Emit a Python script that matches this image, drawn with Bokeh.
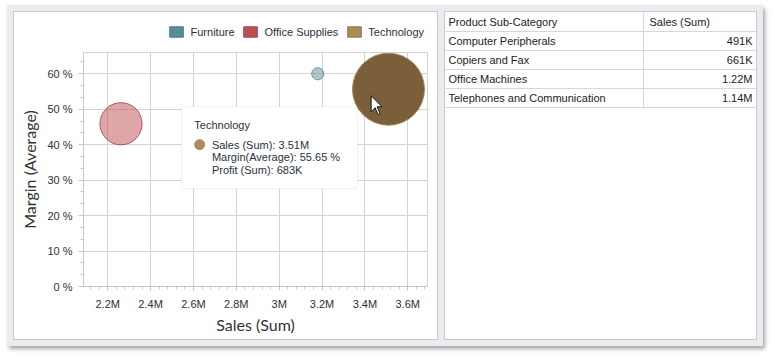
from bokeh.plotting import figure
from bokeh.models import (ColumnDataSource, Legend, LegendItem, SingleIntervalTicker,
                          CustomJSTickFormatter, BoxAnnotation, Label, Range1d)
from bokeh.layouts import row, column
from bokeh.embed import file_html
from bokeh.resources import INLINE
from bokeh.core.properties import value

# ---------------- data ----------------
categories = ["Furniture", "Office Supplies", "Technology"]
sales = [3180000, 2262000, 3510000]          # Sales (Sum)
margin = [60.0, 45.9, 55.65]                 # Margin (Average), %
profit = [115000, 400000, 683000]            # Profit (Sum) -> bubble size

subcategories = ["Computer Peripherals", "Copiers and Fax", "Office Machines",
                 "Telephones and Communication"]
subcategory_sales = [491000, 661000, 1220000, 1140000]

# ---------------- styles ----------------
FONT = "Liberation Sans"
TITLE_FONT = "Lato"
TEXT_COL = "#2B3042"
GRID_COL = "#D2D2DA"
PANEL_BORDER = "#C9C9D6"
FRAME_BG = "#EBEBF0"
swatch_colors = ["#5D8B95", "#BE4D53", "#B08A56"]
swatch_lines = ["#4E7A84", "#A8434A", "#97764A"]
bubble_fill = ["#5D8B95", "#BE4D53", "#7B5E3A"]
bubble_alpha = [0.5, 0.5, 1.0]
bubble_line = ["#6E98A1", "#B9545A", "#A48653"]
PX_PER_PROFIT = 72.0 / 683000.0
NAN = float("nan")


def fmt_money(v):
    if v >= 1e6:
        return f"{v/1e6:.2f}M"
    return f"{v/1e3:.0f}K"


# ---------------- legend strip ----------------
lg = figure(width=423, height=30, x_range=Range1d(0, 1), y_range=Range1d(0, 1),
            output_backend="svg", toolbar_location=None,
            min_border_left=0, min_border_right=0, min_border_bottom=0, min_border_top=10,
            x_axis_location=None, y_axis_location=None,
            background_fill_color="white", border_fill_color="white")
lg.grid.visible = False
lg.outline_line_color = None
items = []
for c, fc, lc in zip(categories, swatch_colors, swatch_lines):
    r = lg.quad(left=[NAN], right=[NAN], top=[NAN], bottom=[NAN], fill_color=fc, line_color=lc)
    items.append(LegendItem(label=c, renderers=[r]))
legend = Legend(items=items, orientation="horizontal", location="top_right",
                glyph_width=17, glyph_height=13, label_height=13, label_standoff=6, spacing=7,
                padding=3, margin=0, border_line_alpha=0, background_fill_alpha=0,
                label_text_font=FONT, label_text_font_size="11px",
                label_text_color=TEXT_COL)
lg.add_layout(legend)

# ---------------- chart ----------------
p = figure(width=423, height=297, x_range=Range1d(2087000, 3692000), y_range=Range1d(0, 66),
           output_backend="svg", toolbar_location=None,
           min_border_left=69, min_border_right=10, min_border_top=10, min_border_bottom=53,
           background_fill_color="white", border_fill_color="white")
p.outline_line_color = GRID_COL

src = ColumnDataSource(dict(x=sales, y=margin,
                            size=[v * PX_PER_PROFIT for v in profit],
                            fill=bubble_fill, alpha=bubble_alpha, line=bubble_line))
p.scatter("x", "y", size="size", source=src, fill_color="fill", fill_alpha="alpha",
          line_color="line", line_width=1)

p.xaxis.ticker = SingleIntervalTicker(interval=200000, num_minor_ticks=5)
p.xaxis.formatter = CustomJSTickFormatter(
    code="var v=(tick/1e6); var s=v.toFixed(1); if (s.endsWith('.0')) s=s.slice(0,-2); return s+'M';")
p.yaxis.ticker = SingleIntervalTicker(interval=10, num_minor_ticks=3)
p.yaxis.formatter = CustomJSTickFormatter(code="return tick.toFixed(0) + ' %';")

for ax in (p.xaxis[0], p.yaxis[0]):
    ax.axis_line_color = "#C6C6D2"
    ax.major_tick_line_color = "#C6C6D2"
    ax.minor_tick_line_color = "#C6C6D2"
    ax.major_tick_in = 0
    ax.minor_tick_in = 0
    ax.major_label_text_font = FONT
    ax.major_label_text_font_size = "11px"
    ax.major_label_text_color = TEXT_COL
    ax.axis_label_text_font = TITLE_FONT
    ax.axis_label_text_font_size = "16px"
    ax.axis_label_text_font_style = "normal"
    ax.axis_label_text_color = "#333333"

p.xaxis.axis_label = "Sales (Sum)"
p.yaxis.axis_label = "Margin (Average)"
p.xaxis.major_tick_out = 4
p.xaxis.minor_tick_out = 3
p.yaxis.major_tick_out = 5
p.yaxis.minor_tick_out = 3
p.xaxis.major_label_standoff = 7
p.yaxis.major_label_standoff = 6
p.xaxis.axis_label_standoff = 2
p.yaxis.axis_label_standoff = 5

p.xgrid.grid_line_color = GRID_COL
p.ygrid.grid_line_color = GRID_COL

# tooltip of the hovered Technology bubble
ti = categories.index("Technology")
tip_box = BoxAnnotation(left=2544000, right=3365000, top=50.7, bottom=27.6,
                        fill_color="white", fill_alpha=1.0, line_color="#CBCBD6",
                        line_width=1, border_radius=3, level="annotation")
p.add_layout(tip_box)
p.add_layout(Label(x=2604000, y=45.6, text=categories[ti], text_font=FONT,
                   text_font_size="11px", text_color=TEXT_COL, text_baseline="middle"))
tip_lines = [f"Sales (Sum): {fmt_money(sales[ti])}",
             f"Margin(Average): {margin[ti]:.2f} %",
             f"Profit (Sum): {fmt_money(profit[ti])}"]
for i, txt in enumerate(tip_lines):
    p.add_layout(Label(x=2686000, y=40.0 - i * 3.6, text=txt, text_font=FONT,
                       text_font_size="11px", text_color=TEXT_COL, text_baseline="middle"))
p.scatter(x=[2629000], y=[40.0], size=10, fill_color=swatch_colors[ti],
          line_color=swatch_colors[ti], level="overlay")

# mouse pointer resting on the hovered bubble (pixel outline scaled to data units)
PX_X = (3692000 - 2087000) / 344.0
PX_Y = 66.0 / 234.0
cursor_tip = (3429000, 53.8)
arrow_px = [(0, 0), (0, 16), (4, 12), (7, 19), (9, 18), (6, 11), (11, 11)]
p.patch(x=[cursor_tip[0] + dx * PX_X for dx, dy in arrow_px],
        y=[cursor_tip[1] - dy * PX_Y for dx, dy in arrow_px],
        fill_color="white", line_color="#111111", line_width=1, level="overlay")

# ---------------- table ----------------
TW, TH = 311, 327
ROW_H = 19
COL_X = 198
t = figure(width=TW, height=TH, x_range=Range1d(0, TW), y_range=Range1d(TH, 0),
           output_backend="svg", toolbar_location=None,
           min_border=0, background_fill_color="white", border_fill_color="white")
t.axis.visible = False
t.grid.visible = False
t.outline_line_color = None

n = len(subcategories)
hy = [ROW_H * (i + 1) for i in range(n + 1)]
t.segment(x0=[0] * len(hy), x1=[TW] * len(hy), y0=hy, y1=hy, line_color="#D6D6E0", line_width=1)
t.segment(x0=[COL_X], x1=[COL_X], y0=[0], y1=[ROW_H * (n + 1)], line_color="#D6D6E0", line_width=1)

t.text(x=[3, COL_X + 6], y=[ROW_H / 2, ROW_H / 2], text=["Product Sub-Category", "Sales (Sum)"],
       text_font=value(FONT), text_font_size="11px", text_color="#222222", text_baseline="middle")
t.text(x=[3] * n, y=[ROW_H * (i + 1.5) for i in range(n)], text=subcategories,
       text_font=value(FONT), text_font_size="11px", text_color="#222222", text_baseline="middle")
t.text(x=[TW - 4] * n, y=[ROW_H * (i + 1.5) for i in range(n)],
       text=[fmt_money(v) for v in subcategory_sales],
       text_font=value(FONT), text_font_size="11px", text_color="#222222",
       text_baseline="middle", text_align="right")

# ---------------- layout ----------------
chart_wrap = column(lg, p, spacing=0,
                    styles={"border": f"1px solid {PANEL_BORDER}", "background-color": "white"})
table_wrap = row(t, styles={"border": f"1px solid {PANEL_BORDER}", "background-color": "white"})
root = row(chart_wrap, table_wrap, spacing=6,
           styles={"margin": "5px 0 0 7px", "padding": "6px",
                   "background-color": FRAME_BG,
                   "box-shadow": "2px 3px 4px rgba(0,0,0,0.35)"})

open("out.html", "w").write(file_html(root, INLINE))
